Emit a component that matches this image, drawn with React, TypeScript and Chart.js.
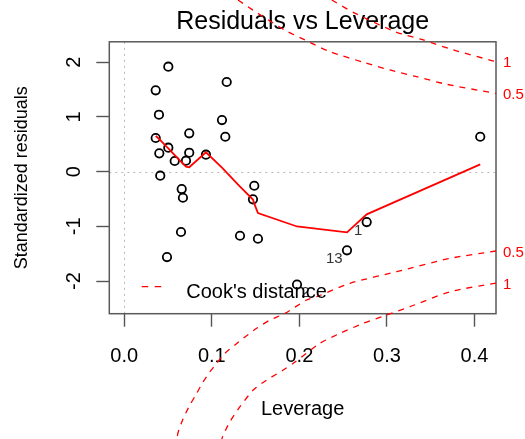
import React, { useEffect, useRef } from "react";
import { Chart, registerables } from "chart.js";

Chart.register(...registerables);

const FONT = "'Liberation Sans', Arial, Helvetica, sans-serif";

// Observations: leverage (hat values) and standardized residuals
const LEVERAGE = [
  0.0503, 0.117, 0.0359, 0.0396, 0.1116, 0.0742, 0.1154, 0.0359, 0.0503, 0.04,
  0.0742, 0.0933, 0.0576, 0.0705, 0.0411, 0.0656, 0.1485, 0.067, 0.147, 0.0648,
  0.1322, 0.1527, 0.0488, 0.1973, 0.2769, 0.2544, 0.4066,
];
const STD_RESIDUALS = [
  1.916, 1.637, 1.485, 1.039, 0.942, 0.7, 0.637, 0.614, 0.437, 0.334,
  0.345, 0.309, 0.194, 0.199, -0.075, -0.318, -0.258, -0.477, -0.506, -1.103,
  -1.171, -1.226, -1.56, -2.062, -0.921, -1.437, 0.637,
];

// Observations flagged with their ids
const FLAGGED_INDEX = [24, 25, 23];
const FLAGGED_TEXT = ["1", "13", "2"];

// Smoothed trend of residuals against leverage
const SMOOTH_X = [
  0.0359, 0.0396, 0.04, 0.0411, 0.0488, 0.0503, 0.0576, 0.0648, 0.0656, 0.067,
  0.0705, 0.0742, 0.0933, 0.1116, 0.1154, 0.117, 0.1322, 0.147, 0.1485, 0.1527,
  0.1973, 0.2544, 0.2769, 0.4066,
];
const SMOOTH_Y = [
  0.65, 0.601, 0.595, 0.577, 0.449, 0.426, 0.303, 0.184, 0.172, 0.148,
  0.091, 0.079, 0.354, 0.073, 0.011, -0.018, -0.272, -0.51, -0.584, -0.756,
  -1.002, -1.109, -0.78, 0.133,
];

// Cook's distance contours (0.5 and 1), upper and lower branches
const COOK05_UP_X = [0.1299, 0.1527, 0.1836, 0.2064, 0.235, 0.2749, 0.3035, 0.334, 0.3682, 0.4177, 0.4246];
const COOK05_UP_Y = [3.134, 2.89, 2.583, 2.404, 2.19, 1.989, 1.856, 1.733, 1.595, 1.448, 1.43];
const COOK1_UP_X = [0.237, 0.2639, 0.3099, 0.3415, 0.3758, 0.4177, 0.4246];
const COOK1_UP_Y = [3.134, 2.89, 2.553, 2.404, 2.222, 2.038, 2.011];
const COOK05_LO_X = [
  0.4246, 0.3721, 0.3111, 0.2578, 0.2198, 0.2083, 0.1836, 0.1664, 0.1512, 0.1359,
  0.1264, 0.115, 0.1055, 0.0979, 0.0902, 0.0827, 0.075, 0.0674, 0.0617, 0.0599,
];
const COOK05_LO_Y = [
  -1.45, -1.584, -1.828, -2.04, -2.285, -2.345, -2.588, -2.711, -2.862, -3.045,
  -3.167, -3.319, -3.501, -3.655, -3.837, -4.049, -4.263, -4.506, -4.751, -4.884,
];
const COOK1_LO_X = [
  0.4246, 0.3721, 0.3263, 0.2997, 0.273, 0.2464, 0.2235, 0.193, 0.1816, 0.1626,
  0.1473, 0.1322, 0.1207, 0.1131, 0.111,
];
const COOK1_LO_Y = [
  -2.035, -2.194, -2.468, -2.619, -2.771, -2.954, -3.136, -3.501, -3.624, -3.807,
  -3.99, -4.294, -4.568, -4.811, -4.902,
];

// Axes
const X_MIN = -0.0171;
const X_MAX = 0.4246;
const Y_MIN = -2.595;
const Y_MAX = 2.371;
const X_TICKS = [0, 0.1, 0.2, 0.3, 0.4];
const X_TICK_LABELS = ["0.0", "0.1", "0.2", "0.3", "0.4"];
const Y_TICKS = [-2, -1, 0, 1, 2];
const Y_TICK_LABELS = ["-2", "-1", "0", "1", "2"];
const COOK_AXIS_VALUES = [-2.025, -1.44, 1.44, 2.025];
const COOK_AXIS_LABELS = ["1", "0.5", "0.5", "1"];

const pairs = (xs: number[], ys: number[]) => xs.map((x, i) => ({ x, y: ys[i] }));

const cookStyle = {
  showLine: true,
  borderColor: "#ff0000",
  borderWidth: 1.3,
  borderDash: [6, 6],
  pointRadius: 0,
  tension: 0.25,
  clip: false as const,
  order: 1,
};

const framePlugin = {
  id: "rFrame",
  beforeDatasetsDraw(chart: any) {
    const { ctx, chartArea: a, scales } = chart;
    ctx.save();
    // dotted reference lines at x = 0 and y = 0
    ctx.strokeStyle = "#b8b8b8";
    ctx.lineWidth = 1;
    ctx.setLineDash([2, 4]);
    const x0 = Math.round(scales.x.getPixelForValue(0)) + 0.5;
    ctx.beginPath();
    ctx.moveTo(x0, a.top);
    ctx.lineTo(x0, a.bottom);
    ctx.stroke();
    const y0 = Math.round(scales.y.getPixelForValue(0)) + 0.5;
    ctx.beginPath();
    ctx.moveTo(a.left, y0);
    ctx.lineTo(a.right, y0);
    ctx.stroke();
    // plot box
    ctx.setLineDash([]);
    ctx.strokeStyle = "#5a5a5a";
    ctx.lineWidth = 1.5;
    ctx.strokeRect(a.left, a.top, a.right - a.left, a.bottom - a.top);
    ctx.restore();
  },
  afterDatasetsDraw(chart: any) {
    const { ctx, chartArea: a, scales } = chart;
    const xs = scales.x;
    const ys = scales.y;
    ctx.save();
    // ids of the flagged observations
    const mid = (Math.min(...LEVERAGE) + Math.max(...LEVERAGE)) / 2;
    ctx.font = `15px ${FONT}`;
    ctx.fillStyle = "#333";
    ctx.textBaseline = "middle";
    FLAGGED_INDEX.forEach((idx, k) => {
      const px = xs.getPixelForValue(LEVERAGE[idx]);
      const py = ys.getPixelForValue(STD_RESIDUALS[idx]);
      const left = LEVERAGE[idx] > mid;
      ctx.textAlign = left ? "right" : "left";
      ctx.fillText(FLAGGED_TEXT[k], left ? px - 4.3 : px + 4.3, py + 8.8);
    });
    // legend
    const ly = a.bottom - 27;
    const lx = a.left + 32.4;
    ctx.strokeStyle = "#ff0000";
    ctx.lineWidth = 1.3;
    ctx.setLineDash([6.5, 6.5]);
    ctx.beginPath();
    ctx.moveTo(lx, ly);
    ctx.lineTo(lx + 20, ly);
    ctx.stroke();
    ctx.setLineDash([]);
    ctx.font = `20px ${FONT}`;
    ctx.fillStyle = "#000";
    ctx.textAlign = "left";
    ctx.textBaseline = "alphabetic";
    ctx.fillText("Cook's distance", a.left + 77, a.bottom - 15.4);
    ctx.restore();
  },
};

export default function App() {
  const canvasRef = useRef<HTMLCanvasElement | null>(null);

  useEffect(() => {
    if (!canvasRef.current) return;
    const chart = new Chart(canvasRef.current, {
      type: "scatter",
      data: {
        datasets: [
          {
            label: "Observations",
            data: pairs(LEVERAGE, STD_RESIDUALS),
            showLine: false,
            pointRadius: 4.2,
            pointBorderWidth: 1.8,
            pointBorderColor: "#000",
            pointBackgroundColor: "rgba(0,0,0,0)",
            order: 3,
          },
          {
            label: "Smooth",
            data: pairs(SMOOTH_X, SMOOTH_Y),
            showLine: true,
            borderColor: "#ff0000",
            borderWidth: 1.8,
            pointRadius: 0,
            tension: 0,
            order: 2,
          },
          { label: "Cook 0.5 upper", data: pairs(COOK05_UP_X, COOK05_UP_Y), ...cookStyle },
          { label: "Cook 1 upper", data: pairs(COOK1_UP_X, COOK1_UP_Y), ...cookStyle },
          { label: "Cook 0.5 lower", data: pairs(COOK05_LO_X, COOK05_LO_Y), ...cookStyle },
          { label: "Cook 1 lower", data: pairs(COOK1_LO_X, COOK1_LO_Y), ...cookStyle },
        ] as any,
      },
      options: {
        animation: false,
        responsive: true,
        maintainAspectRatio: false,
        events: [],
        layout: { padding: 0 },
        plugins: {
          legend: { display: false },
          tooltip: { enabled: false },
          title: {
            display: true,
            text: "Residuals vs Leverage",
            fullSize: false,
            color: "#000",
            font: { family: FONT, size: 25, weight: "normal" },
            padding: { top: 7, bottom: 4.8 },
          },
        },
        scales: {
          x: {
            type: "linear",
            position: "bottom",
            min: X_MIN,
            max: X_MAX,
            afterBuildTicks: (s: any) => {
              s.ticks = X_TICKS.map((v) => ({ value: v }));
            },
            afterFit: (s: any) => {
              s.height = 125.3;
            },
            ticks: {
              autoSkip: false,
              maxRotation: 0,
              color: "#000",
              font: { family: FONT, size: 20 },
              padding: 17.7,
              callback: (_v: any, i: number) => X_TICK_LABELS[i],
            },
            grid: {
              drawOnChartArea: false,
              drawTicks: true,
              tickLength: 13,
              tickColor: "#555",
              tickWidth: 1.4,
            },
            border: { display: false },
            title: {
              display: true,
              text: "Leverage",
              color: "#000",
              font: { family: FONT, size: 20 },
              padding: { top: 0, bottom: 18 },
            },
          },
          y: {
            type: "linear",
            position: "left",
            min: Y_MIN,
            max: Y_MAX,
            afterBuildTicks: (s: any) => {
              s.ticks = Y_TICKS.map((v) => ({ value: v }));
            },
            afterFit: (s: any) => {
              s.width = 109.3;
            },
            ticks: {
              autoSkip: false,
              minRotation: 90,
              maxRotation: 90,
              crossAlign: "center",
              color: "#000",
              font: { family: FONT, size: 20 },
              padding: 12.6,
              callback: (_v: any, i: number) => Y_TICK_LABELS[i],
            },
            grid: {
              drawOnChartArea: false,
              drawTicks: true,
              tickLength: 13,
              tickColor: "#555",
              tickWidth: 1.4,
            },
            border: { display: false },
            title: {
              display: true,
              text: "Standardized residuals",
              color: "#000",
              font: { family: FONT, size: 18 },
              padding: { top: 11.7, bottom: 0 },
            },
          },
          y2: {
            type: "linear",
            position: "right",
            min: Y_MIN,
            max: Y_MAX,
            afterBuildTicks: (s: any) => {
              s.ticks = COOK_AXIS_VALUES.map((v) => ({ value: v }));
            },
            afterFit: (s: any) => {
              s.width = 29;
            },
            ticks: {
              autoSkip: false,
              color: "#ff0000",
              font: { family: FONT, size: 15 },
              padding: 7,
              labelOffset: 2,
              callback: (_v: any, i: number) => COOK_AXIS_LABELS[i],
            },
            grid: { display: false, drawTicks: false },
            border: { display: false },
          },
        },
      } as any,
      plugins: [framePlugin],
    });
    return () => chart.destroy();
  }, []);

  return (
    <div style={{ position: "fixed", left: 0, top: 0, width: 525, height: 439, background: "#fff" }}>
      <canvas ref={canvasRef} />
    </div>
  );
}
